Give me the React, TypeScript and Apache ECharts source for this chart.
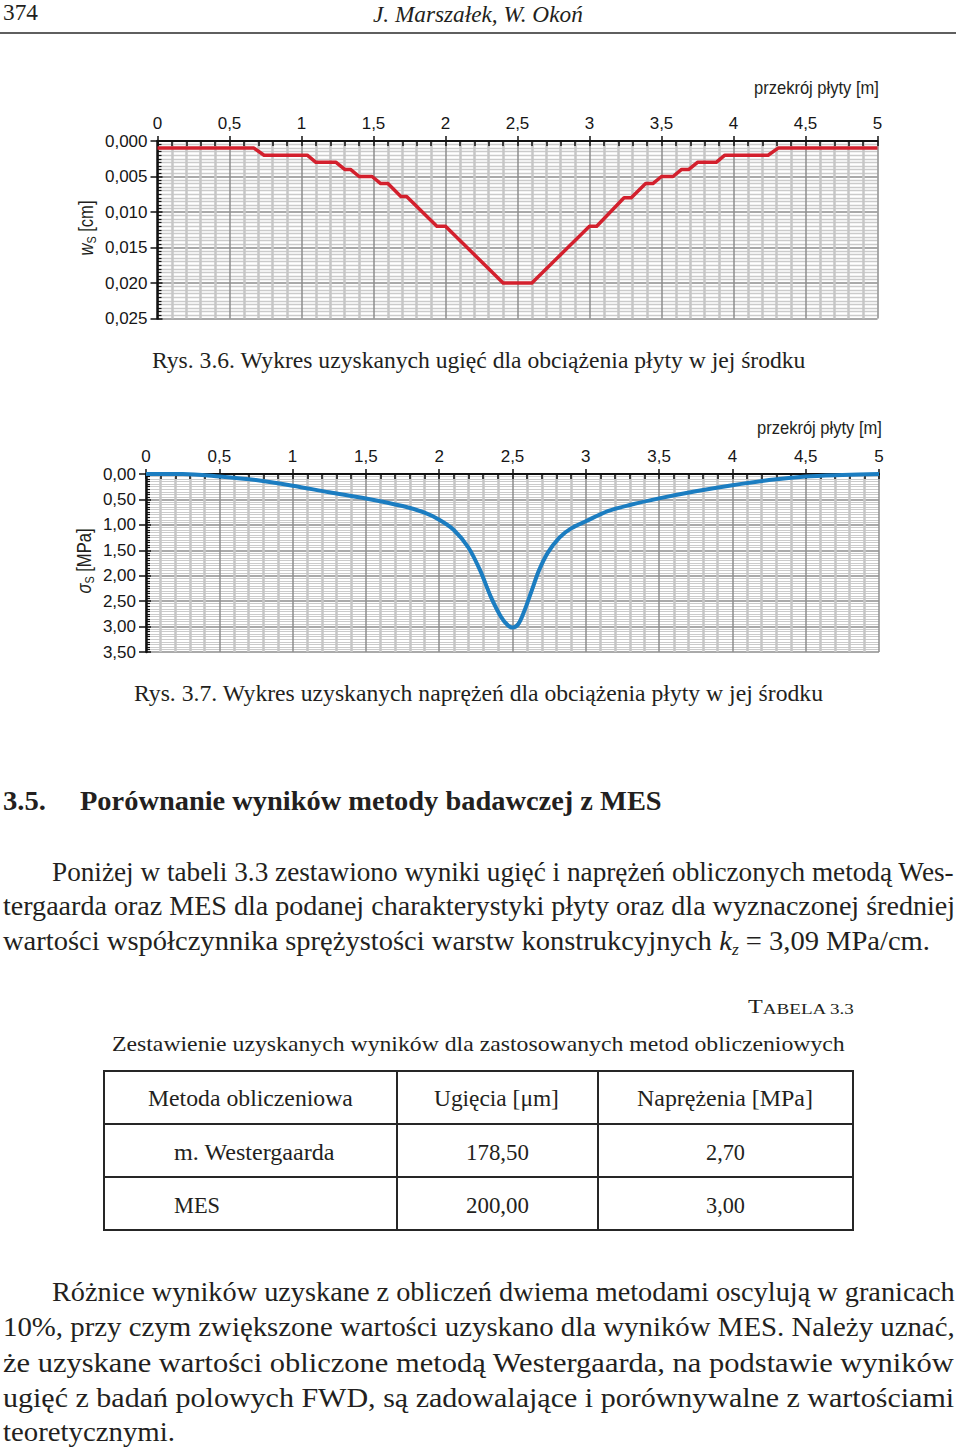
import React, { useEffect, useRef } from "react";
import * as echarts from "echarts";

// ---------- chart data ----------
// Rys. 3.6 – deflection w_S [cm] along the slab section [m]
const deflX = [0, 0.67, 0.74, 1.04, 1.1, 1.24, 1.3, 1.34, 1.4, 1.49, 1.55, 1.6, 1.69, 1.73, 1.94, 2.0, 2.4, 2.6, 3.0, 3.05, 3.24, 3.29, 3.39, 3.44, 3.5, 3.58, 3.64, 3.69, 3.75, 3.88, 3.94, 4.24, 4.31, 5.0];
const deflW = [0.001, 0.001, 0.002, 0.002, 0.003, 0.003, 0.004, 0.004, 0.005, 0.005, 0.006, 0.006, 0.0078, 0.0078, 0.012, 0.012, 0.02, 0.02, 0.012, 0.012, 0.008, 0.008, 0.006, 0.006, 0.005, 0.005, 0.004, 0.004, 0.003, 0.003, 0.002, 0.002, 0.001, 0.001];
// Rys. 3.7 – stress sigma_S [MPa] along the slab section [m]
const stressX = [0, 0.25, 0.5, 0.75, 1.0, 1.25, 1.5, 1.75, 1.9, 2.0, 2.1, 2.2, 2.28, 2.35, 2.42, 2.47, 2.5, 2.54, 2.58, 2.63, 2.68, 2.74, 2.82, 2.9, 3.0, 3.15, 3.3, 3.5, 3.75, 4.0, 4.25, 4.5, 4.75, 5.0];
const stressS = [0, 0, 0.05, 0.12, 0.23, 0.36, 0.48, 0.63, 0.76, 0.9, 1.1, 1.45, 1.9, 2.4, 2.8, 2.98, 3.02, 2.95, 2.7, 2.3, 1.9, 1.55, 1.25, 1.07, 0.93, 0.73, 0.61, 0.48, 0.34, 0.22, 0.12, 0.05, 0.02, 0];

// ---------- page texts ----------
const pageNumber = "374";
const runningHead = "J. Marszałek, W. Okoń";
const axisTitle = "przekrój płyty [m]";
const captions = [
  "Rys. 3.6. Wykres uzyskanych ugięć dla obciążenia płyty w jej środku",
  "Rys. 3.7. Wykres uzyskanych naprężeń dla obciążenia płyty w jej środku",
];
const headingNumber = "3.5.";
const headingText = "Porównanie wyników metody badawczej z MES";
const para1 = [
  "Poniżej w tabeli 3.3 zestawiono wyniki ugięć i naprężeń obliczonych metodą Wes-",
  "tergaarda oraz MES dla podanej charakterystyki płyty oraz dla wyznaczonej średniej",
];
const para1Last = ["wartości współczynnika sprężystości warstw konstrukcyjnych ", "k", "z", " = 3,09 MPa/cm."];
const tableLabel = ["T", "ABELA 3.3"];
const tableCaption = "Zestawienie uzyskanych wyników dla zastosowanych metod obliczeniowych";
const tableHeader = ["Metoda obliczeniowa", "Ugięcia [μm]", "Naprężenia [MPa]"];
const tableMethods = ["m. Westergaarda", "MES"];
const tableDeflections = ["178,50", "200,00"];
const tableStresses = ["2,70", "3,00"];
const para2 = [
  "Różnice wyników uzyskane z obliczeń dwiema metodami oscylują w granicach",
  "10%, przy czym zwiększone wartości uzyskano dla wyników MES. Należy uznać,",
  "że uzyskane wartości obliczone metodą Westergaarda, na podstawie wyników",
  "ugięć z badań polowych FWD, są zadowalające i porównywalne z wartościami",
  "teoretycznymi.",
];

const SERIF = "Liberation Serif, Times New Roman, serif";
const SANS = "Liberation Sans, Arial, sans-serif";
const INK = "#231f20";

type Seg = { t: string; size: number; italic?: boolean; bold?: boolean; sans?: boolean; va?: "bottom" | "middle"; lh?: number };

export default function App() {
  const ref = useRef<HTMLDivElement>(null);

  useEffect(() => {
    document.body.style.margin = "0";
    const chart = echarts.init(ref.current!, null, { renderer: "svg" });
    const ctx = document.createElement("canvas").getContext("2d")!;

    const fam = (s: Seg) => (s.sans ? SANS : SERIF);
    const measure = (s: Seg) => {
      ctx.font = `${s.italic ? "italic" : "normal"} ${s.bold ? "bold" : "normal"} ${s.size}px ${fam(s)}`;
      return ctx.measureText(s.t).width;
    };
    const build = (segs: Seg[]) => {
      const rich: any = {};
      let text = "";
      segs.forEach((s, i) => {
        const k = "s" + i;
        rich[k] = {
          fontSize: s.size,
          fontFamily: fam(s),
          fontStyle: s.italic ? "italic" : "normal",
          fontWeight: s.bold ? "bold" : "normal",
          fill: INK,
          lineHeight: s.lh ?? Math.round(s.size * 1.2),
          verticalAlign: s.va ?? "middle",
        };
        text += `{${k}|${s.t}}`;
      });
      return { text, rich };
    };
    // left-aligned text stretched to span x0..x1
    const fit = (segs: Seg[], x0: number, x1: number, y: number) => {
      const nat = segs.reduce((a, s) => a + measure(s), 0);
      const { text, rich } = build(segs);
      return {
        type: "text", x: x0, y, scaleX: (x1 - x0) / nat, silent: true,
        style: { text, rich, align: "left", verticalAlign: "middle" },
      };
    };
    // centered text of given length, optionally rotated
    const fitC = (segs: Seg[], cx: number, cy: number, len: number, rotation = 0) => {
      const nat = segs.reduce((a, s) => a + measure(s), 0);
      const { text, rich } = build(segs);
      return {
        type: "text", x: cx, y: cy, rotation, scaleX: len / nat, silent: true,
        style: { text, rich, align: "center", verticalAlign: "middle" },
      };
    };
    const serif = (t: string, size: number, extra: Partial<Seg> = {}): Seg => ({ t, size, ...extra });

    const graphics: any[] = [];
    // running head
    graphics.push(fit([serif(pageNumber, 24)], 3, 38, 12));
    graphics.push(fit([serif(runningHead, 24, { italic: true })], 373, 583, 14));
    graphics.push({ type: "line", silent: true, shape: { x1: 0, y1: 33, x2: 956, y2: 33 }, style: { stroke: "#2a2a2a", lineWidth: 1.6 } });
    // axis titles
    graphics.push(fit([{ t: axisTitle, size: 18, sans: true }], 754, 879, 88));
    graphics.push(fit([{ t: axisTitle, size: 18, sans: true }], 757, 882, 428));
    graphics.push(
      fitC(
        [
          { t: "w", size: 20, sans: true, italic: true },
          { t: "S", size: 13, sans: true, va: "bottom", lh: 13 },
          { t: " [cm]", size: 20, sans: true },
        ],
        86, 228, 55, Math.PI / 2
      )
    );
    graphics.push(
      fitC(
        [
          { t: "σ", size: 20, sans: true, italic: true },
          { t: "S", size: 13, sans: true, va: "bottom", lh: 13 },
          { t: " [MPa]", size: 20, sans: true },
        ],
        84, 561, 65, Math.PI / 2
      )
    );
    // captions
    graphics.push(fit([serif(captions[0], 23)], 152, 806, 360));
    graphics.push(fit([serif(captions[1], 23)], 134, 824, 693));
    // heading
    graphics.push(fit([serif(headingNumber, 28, { bold: true })], 3, 46, 801));
    graphics.push(fit([serif(headingText, 28, { bold: true })], 80, 662, 801));
    // paragraph 1
    graphics.push(fit([serif(para1[0], 28)], 52, 955, 871));
    graphics.push(fit([serif(para1[1], 28)], 3, 955, 906));
    graphics.push(
      fit(
        [
          serif(para1Last[0], 28),
          serif(para1Last[1], 28, { italic: true }),
          serif(para1Last[2], 17, { italic: true, va: "bottom", lh: 17 }),
          serif(para1Last[3], 28),
        ],
        3, 930, 941
      )
    );
    // table
    graphics.push(
      fit([serif(tableLabel[0], 19, { va: "bottom", lh: 19 }), serif(tableLabel[1], 15, { va: "bottom", lh: 15 })], 748, 855, 1007)
    );
    graphics.push(fit([serif(tableCaption, 22)], 112, 845, 1044));
    const tStyle = { fill: "none", stroke: "#262626", lineWidth: 2 };
    graphics.push({ type: "rect", silent: true, shape: { x: 104, y: 1071, width: 749, height: 159 }, style: tStyle });
    [1124, 1177].forEach((y) => graphics.push({ type: "line", silent: true, shape: { x1: 104, y1: y, x2: 853, y2: y }, style: tStyle }));
    [397, 598].forEach((x) => graphics.push({ type: "line", silent: true, shape: { x1: x, y1: 1071, x2: x, y2: 1230 }, style: tStyle }));
    graphics.push(fit([serif(tableHeader[0], 23)], 148, 353, 1098));
    graphics.push(fit([serif(tableHeader[1], 23)], 434, 559, 1098));
    graphics.push(fit([serif(tableHeader[2], 23)], 637, 813, 1098));
    const rowsY = [1152, 1205];
    graphics.push(fit([serif(tableMethods[0], 23)], 174, 335, rowsY[0]));
    graphics.push(fit([serif(tableMethods[1], 23)], 174, 220, rowsY[1]));
    tableDeflections.forEach((t, i) => graphics.push(fit([serif(t, 23)], 466, 529, rowsY[i])));
    tableStresses.forEach((t, i) => graphics.push(fit([serif(t, 23)], 706, 745, rowsY[i])));
    // paragraph 2
    const p2y = [1292, 1327, 1362, 1397, 1432];
    const p2x0 = [52, 3, 3, 3, 3];
    const p2x1 = [955, 955, 955, 955, 175];
    para2.forEach((t, i) => graphics.push(fit([serif(t, 28)], p2x0[i], p2x1[i], p2y[i])));

    // ---------- axes ----------
    const labelStyle = { fontFamily: SANS, fontSize: 17, color: "#161616" };
    const majorSplit = { show: true, lineStyle: { color: "#8e8e8e", width: 1.5 } };
    const black = { color: "#111111", width: 1.5 };
    const fmtX = (v: number) => String(+v.toFixed(2)).replace(".", ",");

    const xMain = (grid: number) => ({
      gridIndex: grid, type: "value", min: 0, max: 5, interval: 0.5, position: "top",
      axisLine: { show: true, onZero: false, lineStyle: { color: "#111", width: 2 } },
      axisTick: { show: true, inside: false, length: 5, lineStyle: black },
      axisLabel: { ...labelStyle, margin: 9, formatter: fmtX, showMinLabel: true, showMaxLabel: true },
      splitLine: majorSplit,
      minorTick: { show: false, splitNumber: 5 },
      minorSplitLine: { show: true, lineStyle: { color: "#c6c6c6", width: 2.5 } },
    });
    const xInner = (grid: number) => ({
      gridIndex: grid, type: "value", min: 0, max: 5, interval: 0.5, position: "top",
      axisLine: { show: false, onZero: false }, axisLabel: { show: false }, splitLine: { show: false },
      axisTick: { show: true, inside: true, length: 5, lineStyle: black },
      minorTick: { show: true, splitNumber: 5, length: 5, lineStyle: black },
    });
    const yMain = (grid: number, max: number, interval: number, digits: number, minorGrid: number, minorW: number) => ({
      gridIndex: grid, type: "value", min: 0, max, interval, inverse: true, position: "left",
      axisLine: { show: true, onZero: false, lineStyle: { color: "#111", width: 2.5 } },
      axisTick: { show: true, inside: false, length: 7, lineStyle: black },
      axisLabel: { ...labelStyle, margin: 10, formatter: (v: number) => v.toFixed(digits).replace(".", ","), showMinLabel: true, showMaxLabel: true },
      splitLine: majorSplit,
      minorTick: { show: false, splitNumber: minorGrid },
      minorSplitLine: { show: true, lineStyle: { color: "#cbcbcb", width: minorW } },
    });
    const yInner = (grid: number, max: number, interval: number) => ({
      gridIndex: grid, type: "value", min: 0, max, interval, inverse: true, position: "left",
      axisLine: { show: false, onZero: false }, axisLabel: { show: false }, splitLine: { show: false },
      axisTick: { show: true, inside: true, length: 5, lineStyle: black },
      minorTick: { show: true, splitNumber: 10, length: 4, lineStyle: { color: "#111", width: 1.2 } },
    });

    chart.setOption({
      animation: false,
      backgroundColor: "#ffffff",
      grid: [
        { left: 157.5, top: 141, width: 720, height: 177.5 },
        { left: 146, top: 474, width: 733, height: 178 },
      ],
      xAxis: [xMain(0), xInner(0), xMain(1), xInner(1)],
      yAxis: [yMain(0, 0.025, 0.005, 3, 10, 1.3), yInner(0, 0.025, 0.005), yMain(1, 3.5, 0.5, 2, 10, 1.1), yInner(1, 3.5, 0.5)],
      series: [
        {
          type: "line", xAxisIndex: 0, yAxisIndex: 0, showSymbol: false, symbol: "none",
          data: deflX.map((x, i) => [x, deflW[i]]),
          lineStyle: { color: "#d3202d", width: 3.5, join: "round" }, z: 5,
        },
        {
          type: "line", xAxisIndex: 2, yAxisIndex: 2, showSymbol: false, symbol: "none", smooth: 0.3,
          data: stressX.map((x, i) => [x, stressS[i]]),
          lineStyle: { color: "#1b7dc1", width: 4 }, z: 5,
        },
      ],
      graphic: { elements: graphics },
    });
    return () => chart.dispose();
  }, []);

  return <div ref={ref} style={{ width: 960, height: 1450, background: "#fff" }} />;
}
